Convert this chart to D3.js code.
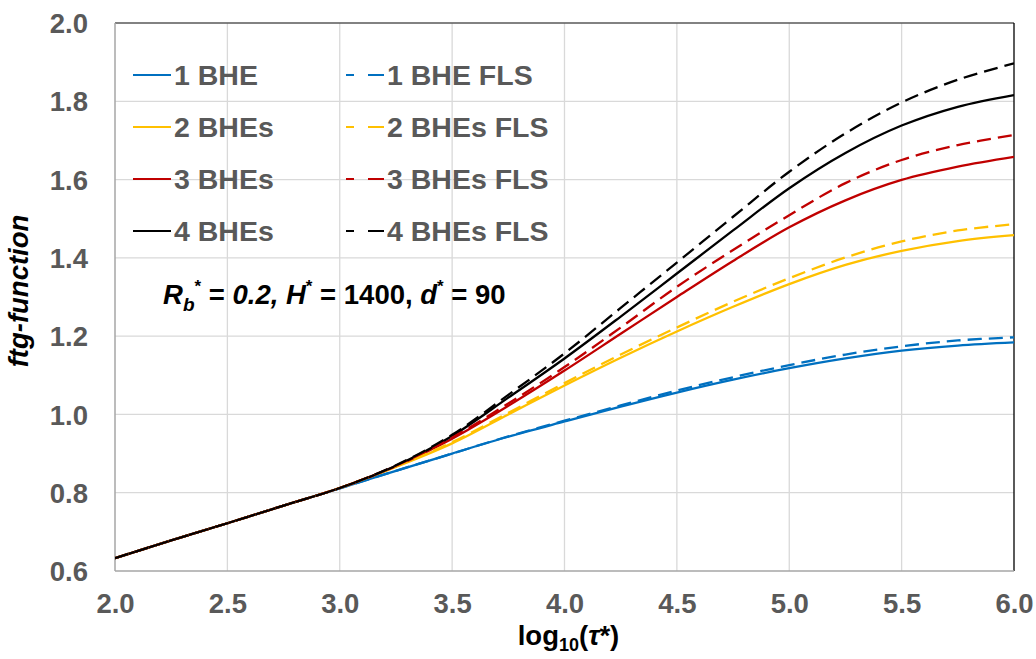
<!DOCTYPE html>
<html>
<head>
<meta charset="utf-8">
<script src="https://cdn.jsdelivr.net/npm/d3@7"></script>
<style>
  html, body { margin: 0; padding: 0; background: #fff; }
  svg { display: block; font-family: "Liberation Sans", Arial, sans-serif; }
</style>
</head>
<body>
<svg id="chart" width="1036" height="659"></svg>
<script>
// log10(tau*) sample points
const logTau = [2.0, 2.25, 2.5, 2.75, 3.0, 3.25, 3.5, 3.75, 4.0, 4.25, 4.5, 4.75, 5.0, 5.25, 5.5, 5.75, 6.0];

// ftg-function values, numerical model
const bhe1 = [0.633, 0.678, 0.722, 0.767, 0.811, 0.856, 0.900, 0.943, 0.982, 1.020, 1.056, 1.089, 1.118, 1.143, 1.163, 1.176, 1.184];
const bhe2 = [0.633, 0.678, 0.722, 0.767, 0.812, 0.866, 0.926, 1.000, 1.074, 1.145, 1.212, 1.275, 1.333, 1.382, 1.418, 1.443, 1.458];
const bhe3 = [0.633, 0.678, 0.722, 0.767, 0.812, 0.868, 0.938, 1.022, 1.112, 1.206, 1.300, 1.392, 1.478, 1.547, 1.599, 1.633, 1.658];
const bhe4 = [0.633, 0.678, 0.722, 0.767, 0.812, 0.869, 0.945, 1.043, 1.143, 1.250, 1.360, 1.470, 1.578, 1.668, 1.738, 1.786, 1.816];

// ftg-function values, finite line source
const bhe1Fls = [0.633, 0.678, 0.722, 0.767, 0.811, 0.856, 0.900, 0.944, 0.984, 1.023, 1.061, 1.095, 1.126, 1.153, 1.174, 1.189, 1.197];
const bhe2Fls = [0.633, 0.678, 0.722, 0.767, 0.812, 0.867, 0.929, 1.004, 1.080, 1.153, 1.222, 1.288, 1.348, 1.401, 1.442, 1.470, 1.486];
const bhe3Fls = [0.633, 0.678, 0.722, 0.767, 0.812, 0.869, 0.941, 1.028, 1.121, 1.222, 1.326, 1.420, 1.509, 1.591, 1.650, 1.688, 1.714];
const bhe4Fls = [0.633, 0.678, 0.722, 0.767, 0.812, 0.870, 0.948, 1.050, 1.156, 1.272, 1.388, 1.505, 1.620, 1.718, 1.797, 1.855, 1.897];

const seriesNames = ["1 BHE", "2 BHEs", "3 BHEs", "4 BHEs", "1 BHE FLS", "2 BHEs FLS", "3 BHEs FLS", "4 BHEs FLS"];
const seriesValues = [bhe1, bhe2, bhe3, bhe4, bhe1Fls, bhe2Fls, bhe3Fls, bhe4Fls];
const seriesColors = ["#0070C0", "#FFC000", "#C00000", "#000000", "#0070C0", "#FFC000", "#C00000", "#000000"];
const seriesDashed = [false, false, false, false, true, true, true, true];

const xTicks = [2.0, 2.5, 3.0, 3.5, 4.0, 4.5, 5.0, 5.5, 6.0];
const yTicks = [0.6, 0.8, 1.0, 1.2, 1.4, 1.6, 1.8, 2.0];

const svg = d3.select("#chart");
const plotLeft = 115, plotRight = 1014, plotTop = 23, plotBottom = 571;

const x = d3.scaleLinear().domain([2.0, 6.0]).range([plotLeft, plotRight]);
const y = d3.scaleLinear().domain([0.6, 2.0]).range([plotBottom, plotTop]);

// gridlines
const grid = svg.append("g");
grid.selectAll("line.gx").data(xTicks.slice(1, -1)).join("line")
  .attr("x1", d => x(d)).attr("x2", d => x(d))
  .attr("y1", plotTop).attr("y2", plotBottom)
  .attr("stroke", "#d9d9d9").attr("stroke-width", 1.3);
grid.selectAll("line.gy").data(yTicks.slice(1, -1)).join("line")
  .attr("x1", plotLeft).attr("x2", plotRight)
  .attr("y1", d => y(d)).attr("y2", d => y(d))
  .attr("stroke", "#d9d9d9").attr("stroke-width", 1.3);

// axes (labels only, no tick marks)
const xAxis = d3.axisBottom(x).tickValues(xTicks).tickFormat(d3.format(".1f")).tickSize(0).tickPadding(0);
const yAxis = d3.axisLeft(y).tickValues(yTicks).tickFormat(d3.format(".1f")).tickSize(0).tickPadding(0);

const gx = svg.append("g").attr("transform", `translate(0,${plotBottom})`).call(xAxis);
gx.select(".domain").remove();
gx.selectAll("text")
  .attr("y", 42).attr("dy", 0)
  .attr("fill", "#595959").attr("font-size", 27.5).attr("font-weight", "bold")
  .attr("font-family", "Liberation Sans, Arial, sans-serif");

const gy = svg.append("g").attr("transform", `translate(${plotLeft},0)`).call(yAxis);
gy.select(".domain").remove();
gy.selectAll("text")
  .attr("x", -27).attr("dy", "0.35em")
  .attr("fill", "#595959").attr("font-size", 27.5).attr("font-weight", "bold")
  .attr("font-family", "Liberation Sans, Arial, sans-serif");

// plot frame
svg.append("line").attr("x1", plotLeft).attr("x2", plotRight).attr("y1", plotTop).attr("y2", plotTop)
  .attr("stroke", "#595959").attr("stroke-width", 1.3);
svg.append("line").attr("x1", plotRight).attr("x2", plotRight).attr("y1", plotTop).attr("y2", plotBottom)
  .attr("stroke", "#000").attr("stroke-width", 1.3);
svg.append("line").attr("x1", plotLeft).attr("x2", plotLeft).attr("y1", plotTop).attr("y2", plotBottom)
  .attr("stroke", "#a6a6a6").attr("stroke-width", 1.5);
svg.append("line").attr("x1", plotLeft).attr("x2", plotRight).attr("y1", plotBottom).attr("y2", plotBottom)
  .attr("stroke", "#a6a6a6").attr("stroke-width", 1.5);

// curves
svg.append("clipPath").attr("id", "plotClip").append("rect")
  .attr("x", plotLeft).attr("y", plotTop).attr("width", plotRight - plotLeft).attr("height", plotBottom - plotTop);

const line = d3.line()
  .x(d => x(d[0]))
  .y(d => y(d[1]))
  .curve(d3.curveCatmullRom.alpha(0.5));

const curves = svg.append("g").attr("clip-path", "url(#plotClip)");
seriesValues.forEach((vals, i) => {
  curves.append("path")
    .datum(logTau.map((t, k) => [t, vals[k]]))
    .attr("d", line)
    .attr("fill", "none")
    .attr("stroke", seriesColors[i])
    .attr("stroke-width", 2.3)
    .attr("stroke-dasharray", seriesDashed[i] ? "14 7" : null);
});

// legend
const legend = svg.append("g");
const rowY = [75, 127, 179, 231];
seriesNames.forEach((name, i) => {
  const col = seriesDashed[i] ? 1 : 0;
  const row = i % 4;
  const x0 = col === 0 ? 133 : 346;
  const g = legend.append("g").attr("transform", `translate(${x0},${rowY[row]})`);
  g.append("line")
    .attr("x1", 0).attr("x2", 38).attr("y1", 0).attr("y2", 0)
    .attr("stroke", seriesColors[i]).attr("stroke-width", 2.2)
    .attr("stroke-dasharray", seriesDashed[i] ? "8 14 16" : null);
  g.append("text")
    .attr("x", 41).attr("y", 10)
    .attr("fill", "#595959").attr("font-size", 28.5).attr("font-weight", "bold")
    .text(name);
});

// parameter annotation
const note = svg.append("text")
  .attr("x", 163).attr("y", 304)
  .attr("fill", "#000").attr("font-size", 27.5).attr("font-weight", "bold");
note.append("tspan").attr("font-style", "italic").text("R");
note.append("tspan").attr("font-style", "italic").attr("font-size", 19).attr("dy", 7).text("b");
note.append("tspan").attr("font-size", 17).attr("dy", -19).text("*");
note.append("tspan").attr("dy", 12).text(" = ");
note.append("tspan").attr("font-style", "italic").text("0.2, H");
note.append("tspan").attr("font-size", 17).attr("dy", -12).text("*");
note.append("tspan").attr("dy", 12).text(" = 1400, ");
note.append("tspan").attr("font-style", "italic").text("d");
note.append("tspan").attr("font-size", 17).attr("dy", -12).text("*");
note.append("tspan").attr("dy", 12).text(" = 90");

// axis titles
const xTitle = svg.append("text")
  .attr("x", (plotLeft + plotRight) / 2 + 4).attr("y", 645)
  .attr("text-anchor", "middle")
  .attr("fill", "#000").attr("font-size", 27.5).attr("font-weight", "bold");
xTitle.append("tspan").text("log");
xTitle.append("tspan").attr("font-size", 18).attr("dy", 6).text("10");
xTitle.append("tspan").attr("dy", -6).text("(");
xTitle.append("tspan").attr("font-style", "italic").text("τ");
xTitle.append("tspan").text("*)");

svg.append("text")
  .attr("transform", `translate(28,${(plotTop + plotBottom) / 2 - 6}) rotate(-90)`)
  .attr("text-anchor", "middle")
  .attr("fill", "#000").attr("font-size", 27.5).attr("font-weight", "bold").attr("font-style", "italic")
  .text("ftg-function");
</script>
</body>
</html>
